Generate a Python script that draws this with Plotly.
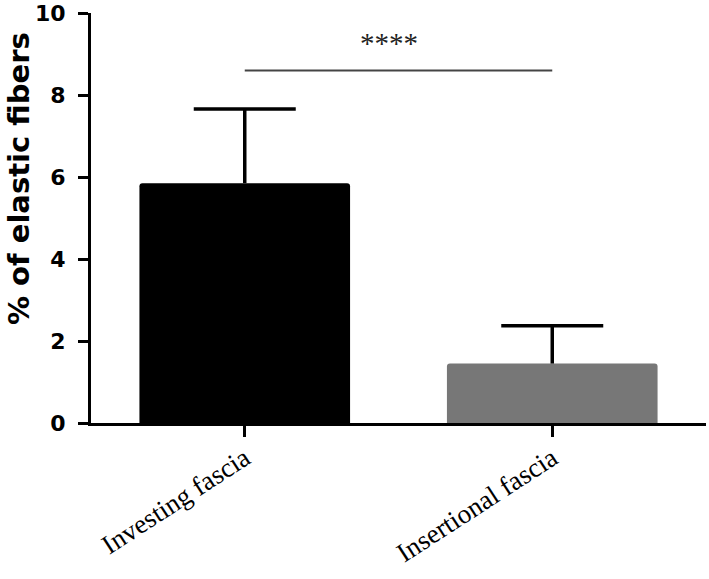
import plotly.graph_objects as go

# ---- data ----
categories = ["Investing fascia", "Insertional fascia"]
means = [5.85, 1.45]
err_upper = [1.81, 0.92]
bar_colors = ["#000000", "#777777"]
sig_label = "****"
sig_y = 8.6
y_ticks = [0, 2, 4, 6, 8, 10]
y_title = "% of elastic fibers"

tops = [m + e for m, e in zip(means, err_upper)]

fig = go.Figure()
fig.add_trace(go.Bar(
    x=categories,
    y=means,
    width=0.685,
    marker=dict(color=bar_colors, line=dict(width=0), cornerradius=3),
    showlegend=False,
))
# error stems (no caps)
fig.add_trace(go.Scatter(
    x=categories, y=tops, mode="markers",
    marker=dict(size=1, opacity=0),
    error_y=dict(type="data", symmetric=False, array=[0] * len(tops),
                 arrayminus=err_upper, color="black", thickness=3.5, width=0),
    showlegend=False, hoverinfo="skip",
))
# error caps
fig.add_trace(go.Scatter(
    x=categories, y=tops, mode="markers",
    marker=dict(size=1, opacity=0),
    error_y=dict(type="data", symmetric=True, array=[0] * len(tops),
                 color="black", thickness=3.5, width=51),
    showlegend=False, hoverinfo="skip",
))

# significance bracket
fig.add_shape(type="line", xref="x", yref="y",
              x0=categories[0], x1=categories[1], y0=sig_y, y1=sig_y,
              line=dict(color="#444444", width=2))
fig.add_annotation(x=0.5, y=sig_y + 0.66, xref="x", yref="y",
                   text=sig_label, showarrow=False, xshift=-10,
                   font=dict(family="Liberation Serif", size=29, color="#222222"))

# y-axis title (placed as in the reference, above centre)
fig.add_annotation(x=0, y=0.595, xref="paper", yref="paper",
                   xanchor="right", yanchor="middle", xshift=-53,
                   text=y_title, textangle=-90, showarrow=False,
                   font=dict(family="DejaVu Sans", size=29, color="black", weight="bold"))

fig.update_layout(
    width=709, height=579,
    margin=dict(l=91, r=3, t=13, b=156),
    plot_bgcolor="white", paper_bgcolor="white",
)
fig.update_xaxes(
    type="category", range=[-0.5, 1.5],
    showline=True, linecolor="black", linewidth=3,
    ticks="outside", ticklen=11, tickwidth=3, tickcolor="black",
    tickangle=-33, ticklabelstandoff=-5,
    tickfont=dict(family="Liberation Serif", size=27, color="black"),
    showgrid=False, zeroline=False, automargin=False,
)
fig.update_yaxes(
    range=[0, 10], tickvals=y_ticks,
    showline=True, linecolor="black", linewidth=3,
    ticks="outside", ticklen=10, tickwidth=3, tickcolor="black",
    ticklabelstandoff=8,
    tickfont=dict(family="DejaVu Sans", size=22, color="black", weight="bold"),
    showgrid=False, zeroline=False, automargin=False,
)

fig.write_html("out.html", config={"displayModeBar": False},
               post_script="document.body.style.margin='0';document.body.style.padding='0';")
